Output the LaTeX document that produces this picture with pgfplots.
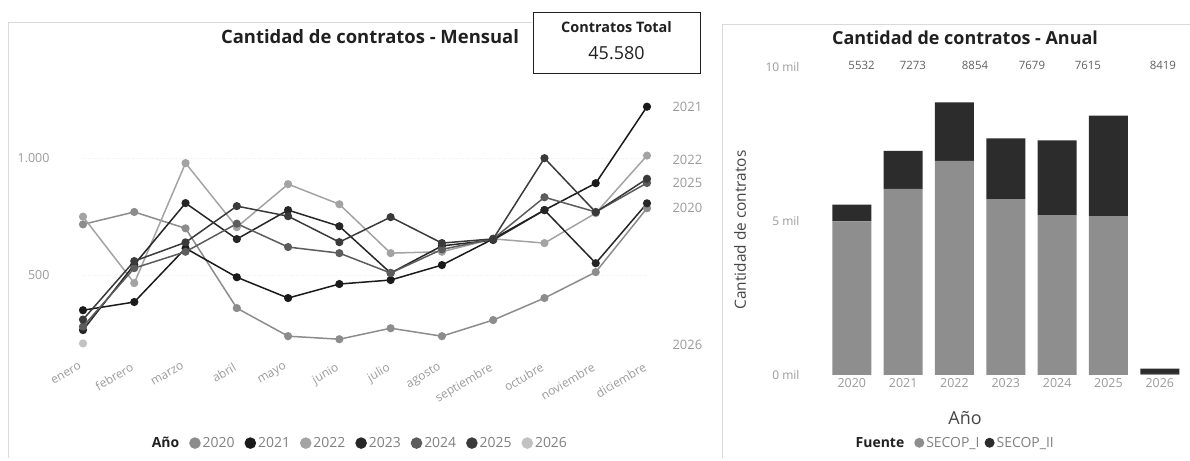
\documentclass[border=0pt]{standalone}
\usepackage{pgfplots}
\pgfplotsset{compat=1.18}
\usepackage{fontspec}
\setmainfont{Open Sans}
\setsansfont{Open Sans}

\definecolor{c2020}{HTML}{8C8C8C}
\definecolor{c2021}{HTML}{1A1A1A}
\definecolor{c2022}{HTML}{A3A3A3}
\definecolor{c2023}{HTML}{262626}
\definecolor{c2024}{HTML}{5C5C5C}
\definecolor{c2025}{HTML}{3A3A3A}
\definecolor{c2026}{HTML}{C2C2C2}
\definecolor{secopI}{HTML}{8E8E8E}
\definecolor{secopII}{HTML}{2C2C2C}
\definecolor{tick}{HTML}{9A9A9A}
\definecolor{ttl}{HTML}{202020}
\definecolor{lbl}{HTML}{444444}
\definecolor{tot}{HTML}{606060}

% contratos por mes (0 = enero)
\pgfplotstableread{
m y2020 y2021 y2022 y2023 y2024 y2025
0 717 350 750 265 280 310
1 770 385 466 545 530 560
2 700 615 979 808 600 640
3 359 491 705 654 720 795
4 239 402 889 778 620 752
5 226 462 803 709 594 641
6 273 479 594 509 509 748
7 239 543 600 625 610 637
8 308 655 655 650 655 655
9 402 778 637 778 833 1000
10 513 893 765 551 770 769
11 786 1220 1011 807 894 912
}\mensual

\pgfplotstableread{
m y2026
0 208
}\mensualb

\pgfplotsset{
  linea/.style={color=#1, line width=1.5bp, mark=*, mark size=3.3bp,
    mark options={fill=#1, draw=#1}},
  dot legend/.style={legend image code/.code={\fill (0.3em,0) circle (5bp);}},
}
\tikzset{
  endlbl/.style={anchor=west, text=tick, font=\fontsize{13}{15}\selectfont, xshift=22bp},
  totlbl/.style={text=tot, font=\fontsize{11.5}{13}\selectfont},
}

\begin{document}
\begin{tikzpicture}
\useasboundingbox (0bp,0bp) rectangle (1190bp,461bp);
% marcos
\draw[gray!30, line width=0.8bp] (8bp,3bp) -- (8bp,439bp) -- (532bp,439bp);
\draw[gray!30, line width=0.8bp] (722bp,3bp) -- (722bp,437bp) -- (1190bp,437bp);

\begin{axis}[
  at={(83bp,104bp)}, anchor=south west,
  scale only axis, width=564bp, height=269bp,
  xmin=0, xmax=11, ymin=150, ymax=1300,
  clip=false,
  axis line style={draw=none},
  tick style={draw=none},
  ytick={500,1000}, yticklabels={500,1.000},
  yticklabel style={font=\fontsize{12.5}{14}\selectfont, text=tick, xshift=-30bp},
  ymajorgrids, grid style={gray!12, dotted},
  xtick={0,...,11},
  xticklabels={enero,febrero,marzo,abril,mayo,junio,julio,agosto,septiembre,octubre,noviembre,diciembre},
  xticklabel style={font=\fontsize{12}{14}\selectfont, text=tick, rotate=30, anchor=north east, xshift=-3bp, yshift=1bp},
  legend columns=-1,
  legend style={at={(0.49,-0.32)}, anchor=center, draw=none, fill=none,
    font=\fontsize{14}{16}\selectfont, text=gray,
    /tikz/every even column/.append style={column sep=8bp}},
  dot legend,
]
\addlegendimage{empty legend}
\addlegendentry{\textcolor{ttl}{\textbf{Año}}}
\addplot[linea=c2020] table[x=m, y=y2020] {\mensual};
\addlegendentry{2020}
\addplot[linea=c2021] table[x=m, y=y2021] {\mensual};
\addlegendentry{2021}
\addplot[linea=c2022] table[x=m, y=y2022] {\mensual};
\addlegendentry{2022}
\addplot[linea=c2023] table[x=m, y=y2023] {\mensual};
\addlegendentry{2023}
\addplot[linea=c2024] table[x=m, y=y2024] {\mensual};
\addlegendentry{2024}
\addplot[linea=c2025] table[x=m, y=y2025] {\mensual};
\addlegendentry{2025}
\addplot[linea=c2026] table[x=m, y=y2026] {\mensualb};
\addlegendentry{2026}
\node[endlbl] at (axis cs:11,1218) {2021};
\node[endlbl] at (axis cs:11,991) {2022};
\node[endlbl] at (axis cs:11,893) {2025};
\node[endlbl] at (axis cs:11,786) {2020};
\node[endlbl] at (axis cs:11,200) {2026};
\end{axis}

\begin{axis}[
  at={(821bp,86bp)}, anchor=south west,
  scale only axis, width=367bp, height=308bp,
  xmin=-0.6, xmax=6.55, ymin=0, ymax=10000,
  clip=false,
  ybar stacked, bar width=39bp,
  axis line style={draw=none},
  tick style={draw=none},
  scaled y ticks=false,
  ytick={0,5000,10000}, yticklabels={0 mil,5 mil,10 mil},
  yticklabel style={font=\fontsize{12}{14}\selectfont, text=tick, xshift=-18bp},
  xtick={0,1,2,3,4,5,6},
  xticklabels={2020,2021,2022,2023,2024,2025,2026},
  xticklabel style={font=\fontsize{12.5}{14}\selectfont, text=tick},
  legend columns=-1,
  legend style={at={(0.447,-0.22)}, anchor=center, draw=none, fill=none,
    font=\fontsize{14}{16}\selectfont, text=gray,
    /tikz/every even column/.append style={column sep=3bp}},
  dot legend,
]
\addplot[fill=secopI, draw=none] coordinates {(0,4990) (1,6040) (2,6950) (3,5710) (4,5190) (5,5160) (6,40)};
\addlegendentry{SECOP\_I}
\addplot[fill=secopII, draw=none] coordinates {(0,542) (1,1233) (2,1904) (3,1969) (4,2425) (5,3259) (6,168)};
\addlegendentry{SECOP\_II}
\node[totlbl] at (axis cs:0.19,10050) {5532};
\node[totlbl] at (axis cs:1.19,10050) {7273};
\node[totlbl] at (axis cs:2.40,10050) {8854};
\node[totlbl] at (axis cs:3.51,10050) {7679};
\node[totlbl] at (axis cs:4.60,10050) {7615};
\node[totlbl] at (axis cs:6.06,10050) {8419};
\end{axis}

% títulos y rótulos
\node[font=\bfseries\fontsize{18.5}{20}\selectfont, text=ttl] at (370bp,424bp) {Cantidad de contratos - Mensual};
\node[font=\bfseries\fontsize{18}{20}\selectfont, text=ttl] at (965bp,423bp) {Cantidad de contratos - Anual};
\node[font=\bfseries\fontsize{14}{16}\selectfont, text=ttl] at (880bp,18bp) {Fuente};
\node[font=\fontsize{18}{20}\selectfont, text=lbl] at (965bp,43bp) {Año};
\node[font=\fontsize{15.5}{18}\selectfont, text=lbl, rotate=90] at (740bp,231bp) {Cantidad de contratos};

% tarjeta total
\draw[ttl, line width=0.9bp, fill=white] (533bp,388bp) rectangle (700bp,449bp);
\node[font=\bfseries\fontsize{14.5}{16}\selectfont, text=ttl] at (616.5bp,434bp) {Contratos Total};
\node[font=\fontsize{18}{20}\selectfont, text=ttl] at (616.5bp,408bp) {45.580};
\end{tikzpicture}
\end{document}
